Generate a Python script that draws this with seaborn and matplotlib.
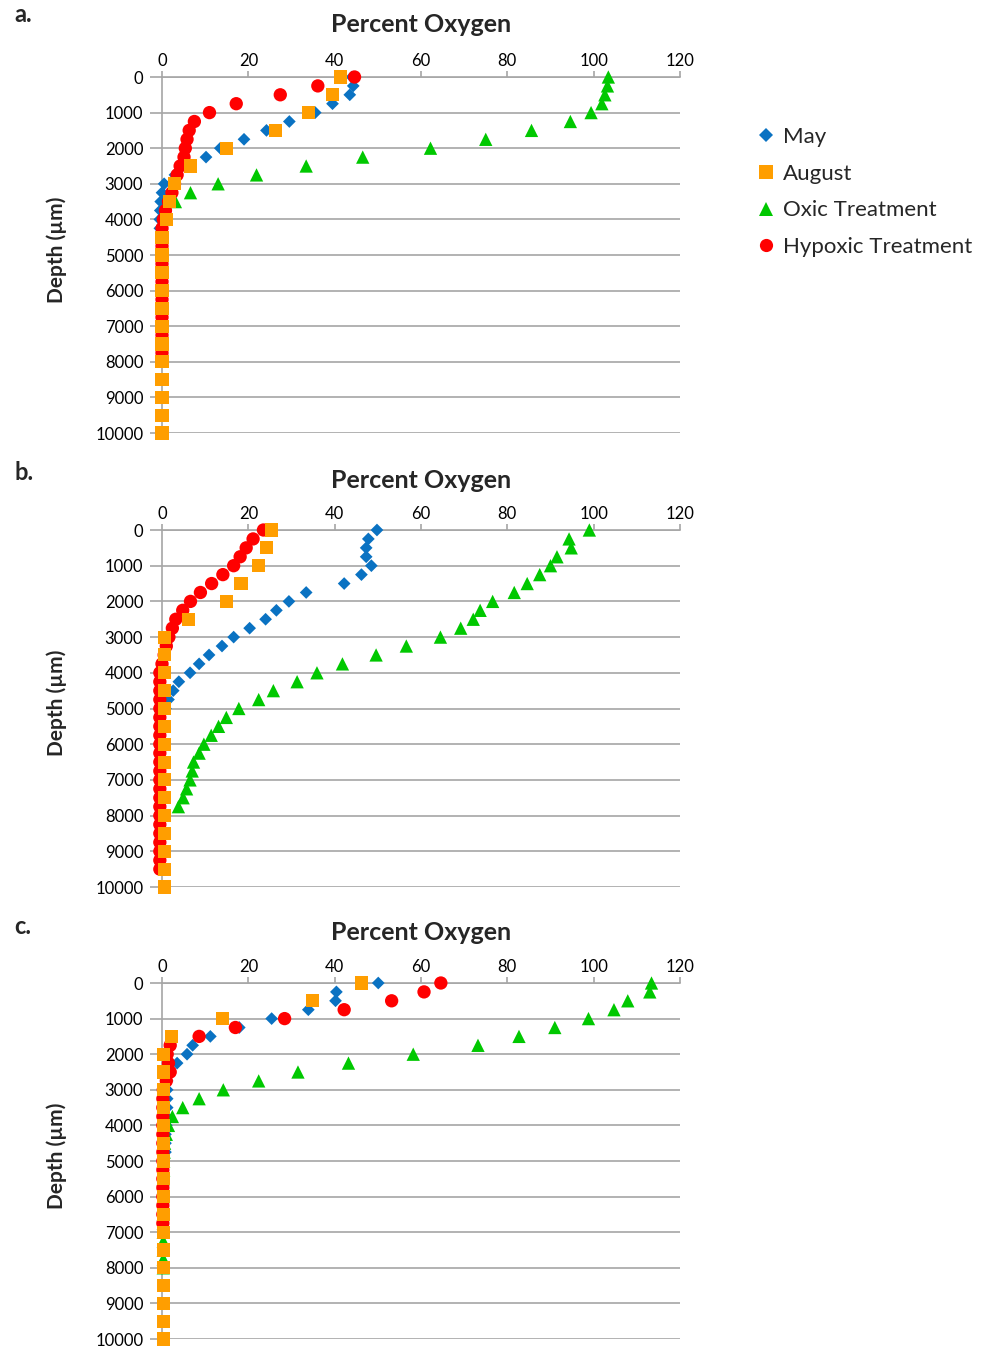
import matplotlib
matplotlib.use("Agg")
import matplotlib.pyplot as plt
import seaborn as sns
import pandas as pd
from matplotlib.lines import Line2D

sns.set_theme(style="white")
plt.rcParams["font.family"] = ["Lato", "DejaVu Sans"]

# ---------------- data ----------------
series_names = ["May", "August", "Oxic Treatment", "Hypoxic Treatment"]

# Panel a
a_may_depth = [0, 250, 500, 750, 1000, 1250, 1500, 1750, 2000, 2250, 2500, 2750, 3000, 3250, 3500, 3750, 4000, 4250]
a_may_o2 = [44.0, 44.3, 43.5, 39.5, 35.5, 29.5, 24.2, 19.0, 13.5, 10.2, 6.5, 3.0, 0.5, 0.0, -0.3, -0.4, -0.5, -0.5]
a_aug_depth = [0, 500, 1000, 1500, 2000, 2500, 3000, 3500, 4000, 4500, 5000, 5500, 6000, 6500, 7000, 7500, 8000, 8500, 9000, 9500, 10000]
a_aug_o2 = [41.4, 39.4, 34.0, 26.2, 14.9, 6.6, 3.0, 1.8, 1.1, 0.0, 0.0, 0.0, 0.0, 0.0, 0.0, 0.0, 0.0, 0.0, 0.0, 0.0, 0.0]
a_oxic_depth = [0, 250, 500, 750, 1000, 1250, 1500, 1750, 2000, 2250, 2500, 2750, 3000, 3250, 3500, 3750, 4000]
a_oxic_o2 = [103.4, 103.2, 102.6, 101.9, 99.4, 94.6, 85.6, 75.0, 62.2, 46.5, 33.4, 21.9, 13.0, 6.6, 3.1, 1.0, 0.3]
a_hyp_depth = [0, 250, 500, 750, 1000, 1250, 1500, 1750, 2000, 2250, 2500, 2750, 3000, 3250, 3500, 3750,
               4000, 4250, 4500, 4750, 5000, 5250, 5500, 5750, 6000, 6250, 6500, 6750, 7000, 7250, 7500, 7750]
a_hyp_o2 = [44.6, 36.1, 27.4, 17.2, 11.0, 7.5, 6.3, 5.8, 5.4, 5.1, 4.2, 3.5, 2.9, 2.3, 1.5, 0.8,
            0.3, 0.0, 0.0, 0.0, 0.0, 0.0, 0.0, 0.0, 0.0, 0.0, 0.0, 0.0, 0.0, 0.0, 0.0, 0.0]

# Panel b
b_may_depth = [0, 250, 500, 750, 1000, 1250, 1500, 1750, 2000, 2250, 2500, 2750, 3000, 3250, 3500, 3750, 4000, 4250, 4500, 4750, 5000]
b_may_o2 = [49.8, 47.8, 47.3, 47.3, 48.5, 46.2, 42.2, 33.4, 29.4, 26.5, 24.0, 20.3, 16.6, 13.9, 10.9, 8.6, 6.5, 3.9, 2.6, 1.5, 0.8]
b_aug_depth = [0, 500, 1000, 1500, 2000, 2500, 3000, 3500, 4000, 4500, 5000, 5500, 6000, 6500, 7000, 7500, 8000, 8500, 9000, 9500, 10000]
b_aug_o2 = [25.3, 24.2, 22.4, 18.3, 14.9, 6.2, 0.6, 0.5, 0.5, 0.5, 0.5, 0.5, 0.5, 0.5, 0.5, 0.5, 0.5, 0.5, 0.5, 0.5, 0.5]
b_oxic_depth = [0, 250, 500, 750, 1000, 1250, 1500, 1750, 2000, 2250, 2500, 2750, 3000, 3250, 3500, 3750,
                4000, 4250, 4500, 4750, 5000, 5250, 5500, 5750, 6000, 6250, 6500, 6750, 7000, 7250, 7500, 7750]
b_oxic_o2 = [99.0, 94.3, 94.8, 91.5, 90.0, 87.5, 84.6, 81.6, 76.6, 73.7, 72.1, 69.2, 64.5, 56.6, 49.6, 41.8,
             35.9, 31.3, 25.8, 22.4, 17.8, 14.9, 13.1, 11.4, 9.7, 8.6, 7.3, 7.0, 6.5, 5.7, 4.9, 3.8]
b_hyp_depth = [0, 250, 500, 750, 1000, 1250, 1500, 1750, 2000, 2250, 2500, 2750, 3000, 3250, 3500, 3750,
               4000, 4250, 4500, 4750, 5000, 5250, 5500, 5750, 6000, 6250, 6500, 6750, 7000, 7250, 7500, 7750,
               8000, 8250, 8500, 8750, 9000, 9250, 9500]
b_hyp_o2 = [23.5, 21.1, 19.5, 18.1, 16.6, 14.1, 11.5, 8.9, 6.6, 4.8, 3.2, 2.4, 1.6, 1.0, 0.5, 0.0,
            -0.5, -0.5, -0.5, -0.5, -0.5, -0.5, -0.5, -0.5, -0.5, -0.5, -0.5, -0.5, -0.5, -0.5, -0.5, -0.5,
            -0.5, -0.5, -0.5, -0.5, -0.5, -0.5, -0.5]

# Panel c
c_may_depth = [0, 250, 500, 750, 1000, 1250, 1500, 1750, 2000, 2250, 2500, 2750, 3000, 3250, 3500, 3750, 4000, 4250, 4500, 4750]
c_may_o2 = [50.1, 40.4, 40.2, 33.9, 25.4, 17.9, 11.2, 7.1, 5.8, 3.5, 1.8, 1.2, 1.2, 1.2, 1.2, 1.0, 1.0, 0.8, 0.8, 0.8]
c_aug_depth = [0, 500, 1000, 1500, 2000, 2500, 3000, 3500, 4000, 4500, 5000, 5500, 6000, 6500, 7000, 7500, 8000, 8500, 9000, 9500, 10000]
c_aug_o2 = [46.2, 34.8, 14.0, 2.1, 0.3, 0.3, 0.3, 0.3, 0.3, 0.3, 0.3, 0.3, 0.3, 0.3, 0.3, 0.3, 0.3, 0.3, 0.3, 0.3, 0.3]
c_oxic_depth = [0, 250, 500, 750, 1000, 1250, 1500, 1750, 2000, 2250, 2500, 2750, 3000, 3250, 3500, 3750,
                4000, 4250, 4500, 4750, 5000, 5250, 5500, 5750, 6000, 6250, 6500, 6750, 7000, 7250, 7500, 7750, 8000]
c_oxic_o2 = [113.4, 113.0, 107.9, 104.7, 98.8, 91.0, 82.7, 73.2, 58.2, 43.2, 31.5, 22.4, 14.2, 8.6, 4.8, 2.4,
             1.5, 1.0, 0.6, 0.5, 0.4, 0.4, 0.3, 0.3, 0.3, 0.3, 0.3, 0.3, 0.3, 0.3, 0.3, 0.3, 0.3]
c_hyp_depth = [0, 250, 500, 750, 1000, 1250, 1500, 1750, 2000, 2250, 2500, 2750, 3000, 3250, 3500, 3750,
               4000, 4250, 4500, 4750, 5000, 5250, 5500, 5750, 6000, 6250, 6500, 6750]
c_hyp_o2 = [64.6, 60.7, 53.2, 42.2, 28.4, 17.0, 8.6, 1.9, 1.2, 1.5, 1.9, 1.0, 0.3, 0.2, 0.2, 0.2,
            0.2, 0.2, 0.2, 0.2, 0.2, 0.2, 0.2, 0.2, 0.2, 0.2, 0.2, 0.2]

x_ticks = [0, 20, 40, 60, 80, 100, 120]
y_ticks = [0, 1000, 2000, 3000, 4000, 5000, 6000, 7000, 8000, 9000, 10000]
panel_labels = ["a.", "b.", "c."]
title_text = "Percent Oxygen"
ylabel_text = "Depth (µm)"

# ---------------- style ----------------
colors = {"May": "#0A72C2", "August": "#FF9E00", "Oxic Treatment": "#00C800", "Hypoxic Treatment": "#FF0000"}
markers = {"May": "D", "August": "s", "Oxic Treatment": "^", "Hypoxic Treatment": "o"}
sizes = {"May": 42, "August": 88, "Oxic Treatment": 92, "Hypoxic Treatment": 92}
draw_order = ["May", "Oxic Treatment", "Hypoxic Treatment", "August"]
grid_col = "#A6A6A6"

panels = [
    {"May": (a_may_depth, a_may_o2), "August": (a_aug_depth, a_aug_o2),
     "Oxic Treatment": (a_oxic_depth, a_oxic_o2), "Hypoxic Treatment": (a_hyp_depth, a_hyp_o2)},
    {"May": (b_may_depth, b_may_o2), "August": (b_aug_depth, b_aug_o2),
     "Oxic Treatment": (b_oxic_depth, b_oxic_o2), "Hypoxic Treatment": (b_hyp_depth, b_hyp_o2)},
    {"May": (c_may_depth, c_may_o2), "August": (c_aug_depth, c_aug_o2),
     "Oxic Treatment": (c_oxic_depth, c_oxic_o2), "Hypoxic Treatment": (c_hyp_depth, c_hyp_o2)},
]

W, H = 981, 1348
fig = plt.figure(figsize=(W / 100, H / 100), dpi=100)

# pixel geometry of plot areas
px_left, px_right = 162, 680
px_tops = [77, 530, 983]
px_bottoms = [433, 887, 1339]
title_y = [25, 480, 932]
label_y = [15, 473, 927]

for i, data in enumerate(panels):
    ax = fig.add_axes([px_left / W, 1 - px_bottoms[i] / H,
                       (px_right - px_left) / W, (px_bottoms[i] - px_tops[i]) / H])
    for name in draw_order:
        d, v = data[name]
        df = pd.DataFrame({"depth": d, "o2": v})
        sns.scatterplot(data=df, x="o2", y="depth", ax=ax, marker=markers[name],
                        s=sizes[name], color=colors[name], edgecolor="none", linewidth=0,
                        clip_on=False, zorder=3, legend=False)
    ax.set_xlim(0, 120)
    ax.set_ylim(10000, 0)
    ax.set_xticks(x_ticks)
    ax.set_yticks(y_ticks)
    ax.set_yticklabels([str(t) for t in y_ticks])
    ax.xaxis.tick_top()
    ax.set_xlabel("")
    ax.set_ylabel(ylabel_text, fontweight="bold", fontsize=15)
    ax.yaxis.set_label_coords(-0.183, 0.515)
    ax.grid(axis="y", color=grid_col, linewidth=1.2)
    ax.grid(axis="x", visible=False)
    ax.set_axisbelow(True)
    for sp in ["bottom", "right"]:
        ax.spines[sp].set_visible(False)
    for sp in ["top", "left"]:
        ax.spines[sp].set_color(grid_col)
        ax.spines[sp].set_linewidth(1.2)
    ax.tick_params(axis="both", which="major", direction="out", width=1.2,
                   color=grid_col, labelsize=12, labelcolor="black")
    ax.tick_params(axis="x", pad=2, length=4, top=True, bottom=False)
    ax.tick_params(axis="y", pad=5, length=8.5, left=True)

    fig.text((px_left + px_right) / 2 / W, 1 - title_y[i] / H, title_text,
             ha="center", va="center", fontsize=18, fontweight="bold")
    fig.text(14 / W, 1 - label_y[i] / H, panel_labels[i], ha="left", va="center",
             fontsize=17, fontweight="bold")

    if i == 0:
        handles = [Line2D([], [], linestyle="none", marker=markers[n], color=colors[n],
                          markeredgewidth=0, markersize=(7 if n == "May" else 9.5))
                   for n in series_names]
        fig.legend(handles, series_names, loc="upper left",
                   bbox_to_anchor=(757 / W, 1 - 127 / H), frameon=False,
                   fontsize=16, handlelength=0.8, handletextpad=0.37, labelspacing=0.75,
                   borderpad=0, borderaxespad=0)

fig.savefig("out.png", dpi=100)
